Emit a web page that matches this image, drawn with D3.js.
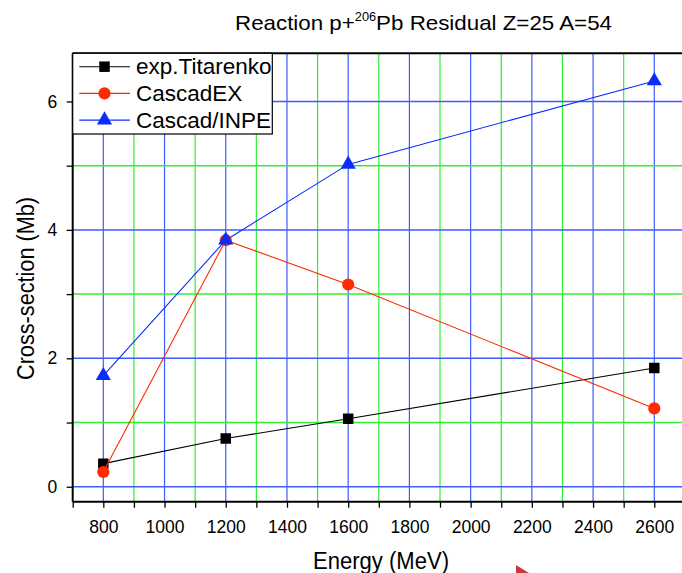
<!DOCTYPE html>
<html><head><meta charset="utf-8">
<script src="https://cdn.jsdelivr.net/npm/d3@7/dist/d3.min.js"></script>
<style>body{margin:0;background:#fff}svg{display:block;font-family:Arial,"Liberation Sans",sans-serif}</style>
</head><body><svg id="c" width="682" height="573"></svg>
<script>
const energies = [800, 1200, 1600, 2600];
const expTitarenko = [0.36, 0.75, 1.06, 1.85];
const cascadEX = [0.23, 3.84, 3.15, 1.22];
const cascadINPE = [1.73, 3.84, 5.02, 6.32];
const seriesNames = ["exp.Titarenko", "CascadEX", "Cascad/INPE"];
const xTickLabels = [800,1000,1200,1400,1600,1800,2000,2200,2400,2600];
const yTickLabels = [0,2,4,6];

const svg = d3.select("#c");
const L = 72.7, R = 684.9, T = 53.3, B = 501.7;
const x = d3.scaleLinear().domain([700, 2700]).range([L, R]);
const y = d3.scaleLinear().domain([-0.233, 6.75]).range([B, T]);

svg.append("defs").append("clipPath").attr("id","clip").append("rect")
  .attr("x", L).attr("y", T).attr("width", R-L).attr("height", B-T);

const g = svg.append("g").attr("clip-path","url(#clip)");
// grid
const xMinor = d3.range(900, 2700, 200);
const xMajor = d3.range(800, 2700, 200);
g.selectAll(".gxm").data(xMinor).join("line")
  .attr("x1", d=>x(d)).attr("x2", d=>x(d)).attr("y1", T).attr("y2", B)
  .attr("stroke", "#33ee33").attr("stroke-width", 1.2);
g.selectAll(".gxM").data(xMajor).join("line")
  .attr("x1", d=>x(d)).attr("x2", d=>x(d)).attr("y1", T).attr("y2", B)
  .attr("stroke", "#3d5cff").attr("stroke-width", 1.2);
g.selectAll(".gym").data([1,3,5]).join("line")
  .attr("y1", d=>y(d)).attr("y2", d=>y(d)).attr("x1", L).attr("x2", R)
  .attr("stroke", "#33ee33").attr("stroke-width", 1.5);
g.selectAll(".gyM").data([0,2,4,6]).join("line")
  .attr("y1", d=>y(d)).attr("y2", d=>y(d)).attr("x1", L).attr("x2", R)
  .attr("stroke", "#3d5cff").attr("stroke-width", 1.5);

const series = [
  {name: seriesNames[0], vals: expTitarenko, color: "#000000", marker: "square"},
  {name: seriesNames[1], vals: cascadEX, color: "#ff2a00", marker: "circle"},
  {name: seriesNames[2], vals: cascadINPE, color: "#0a2dff", marker: "triangle"}
];
const symSize = {square: 110, circle: 115, triangle: 100};
const symType = {square: d3.symbolSquare, circle: d3.symbolCircle, triangle: d3.symbolTriangle};
const line = d3.line().x((d,i)=>x(energies[i])).y(d=>y(d));
series.forEach(s=>{
  g.append("path").datum(s.vals).attr("d", line).attr("fill","none")
    .attr("stroke", s.color).attr("stroke-width", 1.1);
  g.selectAll(null).data(s.vals).join("path")
    .attr("transform", (d,i)=>`translate(${x(energies[i])},${y(d)})`)
    .attr("d", d3.symbol().type(symType[s.marker]).size(symSize[s.marker]))
    .attr("fill", s.color);
});

// axes
const xAxis = d3.axisBottom(x).tickValues(d3.range(700, 2700, 100)).tickSize(6)
  .tickFormat(d => xTickLabels.includes(d) ? d : "");
const xg = svg.append("g").attr("transform", `translate(0,${B})`).call(xAxis);
xg.select(".domain").attr("stroke","#000").attr("stroke-width",2).attr("d", `M${L},0H${R}`);
xg.selectAll(".tick line").attr("stroke","#000").attr("stroke-width",1.3);
xg.selectAll("text").attr("font-size", 17.5).attr("fill","#000").attr("y", 31.6).attr("dy", 0);

const yAxis = d3.axisLeft(y).tickValues([0,1,2,3,4,5,6]).tickSize(6)
  .tickFormat(d => yTickLabels.includes(d) ? d : "");
const yg = svg.append("g").attr("transform", `translate(${L},0)`).call(yAxis);
yg.select(".domain").attr("stroke","#000").attr("stroke-width",2).attr("d", `M0,${B}V${T}`);
yg.selectAll(".tick line").attr("stroke","#000").attr("stroke-width",1.3);
yg.selectAll("text").attr("font-size", 17.5).attr("fill","#000").attr("x", -15.5);

// top border
svg.append("line").attr("x1", L).attr("x2", 682).attr("y1", T).attr("y2", T)
  .attr("stroke","#000").attr("stroke-width",2);

// titles
const title = svg.append("text").attr("x", 235).attr("y", 29.5)
  .attr("font-size", 21).attr("fill","#000")
  .attr("textLength", 377).attr("lengthAdjust", "spacingAndGlyphs");
title.append("tspan").text("Reaction p+");
title.append("tspan").text("206").attr("font-size", 12).attr("dy", -9);
title.append("tspan").text("Pb Residual Z=25 A=54").attr("dy", 9);

svg.append("text").attr("x", 381).attr("y", 569).attr("text-anchor","middle")
  .attr("font-size", 23).attr("fill","#000")
  .attr("textLength", 136).attr("lengthAdjust", "spacingAndGlyphs").text("Energy (MeV)");
svg.append("text").attr("transform","translate(34,288.5) rotate(-90)").attr("text-anchor","middle")
  .attr("font-size", 23).attr("fill","#000")
  .attr("textLength", 183).attr("lengthAdjust", "spacingAndGlyphs").text("Cross-section (Mb)");

// legend
const lg = svg.append("g");
lg.append("rect").attr("x", L).attr("y", T).attr("width", 272.3-L).attr("height", 134-T)
  .attr("fill","#fff").attr("stroke","#000").attr("stroke-width",1.2);
series.forEach((s,i)=>{
  const cy = 66.7 + i*26.7;
  lg.append("line").attr("x1", 79.3).attr("x2", 130).attr("y1", cy).attr("y2", cy)
    .attr("stroke", s.color).attr("stroke-width", 1.1);
  lg.append("path").attr("transform", `translate(104.5,${cy})`)
    .attr("d", d3.symbol().type(symType[s.marker]).size(symSize[s.marker]))
    .attr("fill", s.color);
  lg.append("text").attr("x", 136).attr("y", cy + 7.7).attr("font-size", 22.5)
    .attr("fill","#000").text(s.name);
});

// decoration at bottom (red pointer fragment)
svg.append("path").attr("d","M516,565L516,573L529,573Z").attr("fill","#c83a3a");
</script></body></html>
